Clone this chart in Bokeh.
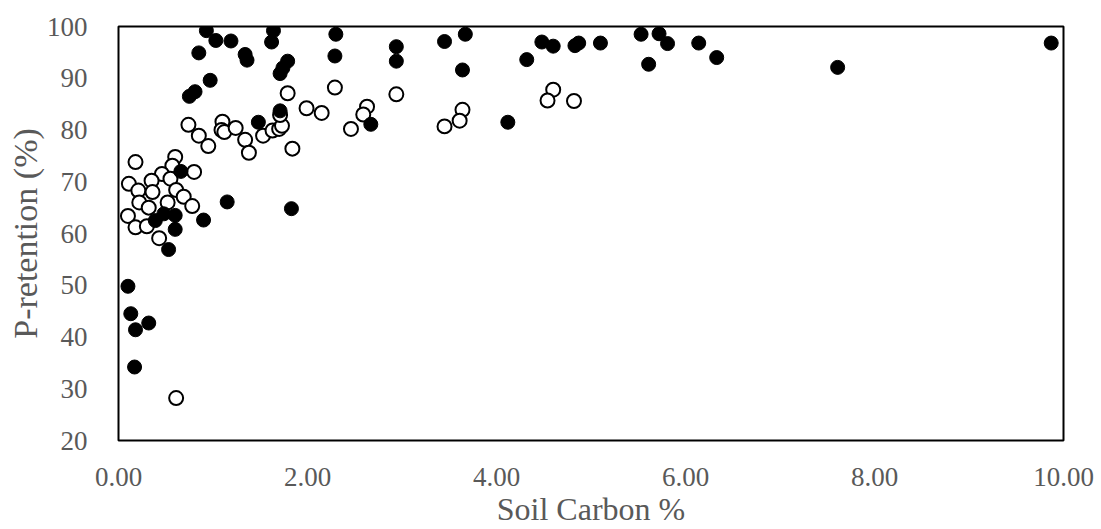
from bokeh.plotting import figure
from bokeh.models import FixedTicker, NumeralTickFormatter, Range1d
from bokeh.embed import file_html
from bokeh.resources import INLINE

# Filled (black) series
filled_x = [0.93, 1.03, 1.19, 0.85, 1.34, 1.36, 1.64, 1.62, 1.79, 1.74, 1.71, 0.97, 0.81, 0.75,
            2.30, 2.29, 2.94, 2.94, 3.45, 3.67, 3.64, 4.48, 4.60, 4.32, 4.83, 4.87, 5.10, 5.53,
            5.72, 5.81, 5.61, 6.14, 6.33, 7.61, 9.87, 1.71, 1.48, 2.67, 4.12, 0.66, 1.15, 1.83,
            0.90, 0.39, 0.48, 0.60, 0.60, 0.53, 0.10, 0.13, 0.32, 0.18, 0.17]
filled_y = [99.2, 97.3, 97.2, 94.9, 94.6, 93.5, 99.2, 97.0, 93.3, 92.0, 90.9, 89.6, 87.4, 86.5,
            98.5, 94.3, 96.1, 93.3, 97.1, 98.5, 91.6, 97.0, 96.2, 93.6, 96.3, 96.8, 96.8, 98.5,
            98.6, 96.7, 92.7, 96.8, 94.0, 92.1, 96.8, 83.7, 81.5, 81.1, 81.5, 72.0, 66.1, 64.8,
            62.6, 62.5, 63.8, 63.5, 60.8, 56.9, 49.8, 44.5, 42.7, 41.4, 34.2]

# Open (white) series
open_x = [0.18, 0.60, 0.57, 0.80, 0.46, 0.35, 0.11, 0.21, 0.36, 0.55, 0.61, 0.69, 0.22, 0.32,
          0.52, 0.78, 0.10, 0.18, 0.30, 0.43, 0.61, 0.74, 0.85, 0.95, 1.10, 1.09, 1.12, 1.24,
          1.34, 1.38, 1.53, 1.63, 1.70, 1.73, 1.71, 1.84, 1.99, 2.15, 1.79, 2.29, 2.63, 2.59,
          2.46, 2.94, 3.45, 3.64, 3.61, 4.60, 4.54, 4.82]
open_y = [73.8, 74.8, 73.1, 71.9, 71.5, 70.2, 69.6, 68.3, 68.0, 70.6, 68.4, 67.1, 66.0, 65.0,
          66.0, 65.3, 63.4, 61.2, 61.4, 59.1, 28.2, 81.0, 78.9, 76.9, 81.6, 80.0, 79.6, 80.4,
          78.1, 75.6, 78.9, 79.9, 80.2, 80.8, 82.9, 76.4, 84.2, 83.3, 87.1, 88.2, 84.5, 83.0,
          80.2, 86.9, 80.7, 83.9, 81.8, 87.8, 85.7, 85.6]

x_ticks = [0, 2, 4, 6, 8, 10]
y_ticks = [20, 30, 40, 50, 60, 70, 80, 90, 100]

FONT = "Liberation Serif"
GREY = "#595959"

p = figure(width=1101, height=529, output_backend="svg", toolbar_location=None,
           x_range=Range1d(0, 10), y_range=Range1d(20, 100),
           min_border_left=118, min_border_right=38, min_border_top=26, min_border_bottom=89)

p.outline_line_color = "black"
p.outline_line_width = 2
p.xgrid.visible = False
p.ygrid.visible = False
p.background_fill_color = "white"
p.border_fill_color = "white"

p.scatter(open_x, open_y, size=14, marker="circle", fill_color="white",
          line_color="black", line_width=2)
p.scatter(filled_x, filled_y, size=14, marker="circle", fill_color="black",
          line_color="black", line_width=1)

for ax in (p.xaxis[0], p.yaxis[0]):
    ax.axis_line_color = None
    ax.major_tick_line_color = None
    ax.minor_tick_line_color = None
    ax.major_label_text_font = FONT
    ax.major_label_text_font_size = "27px"
    ax.major_label_text_color = GREY
    ax.axis_label_text_font = FONT
    ax.axis_label_text_color = GREY
    ax.axis_label_text_font_style = "normal"

p.xaxis.axis_label_text_font_size = "32px"
p.yaxis.axis_label_text_font_size = "34px"
p.xaxis.ticker = FixedTicker(ticks=x_ticks)
p.xaxis.formatter = NumeralTickFormatter(format="0.00")
p.yaxis.ticker = FixedTicker(ticks=y_ticks)
p.xaxis.axis_label = "Soil Carbon %"
p.yaxis.axis_label = "P-retention (%)"
p.xaxis.major_label_standoff = 21
p.yaxis.major_label_standoff = 25
p.xaxis.axis_label_standoff = 2
p.yaxis.axis_label_standoff = 0

open("out.html", "w").write(file_html(p, INLINE))
